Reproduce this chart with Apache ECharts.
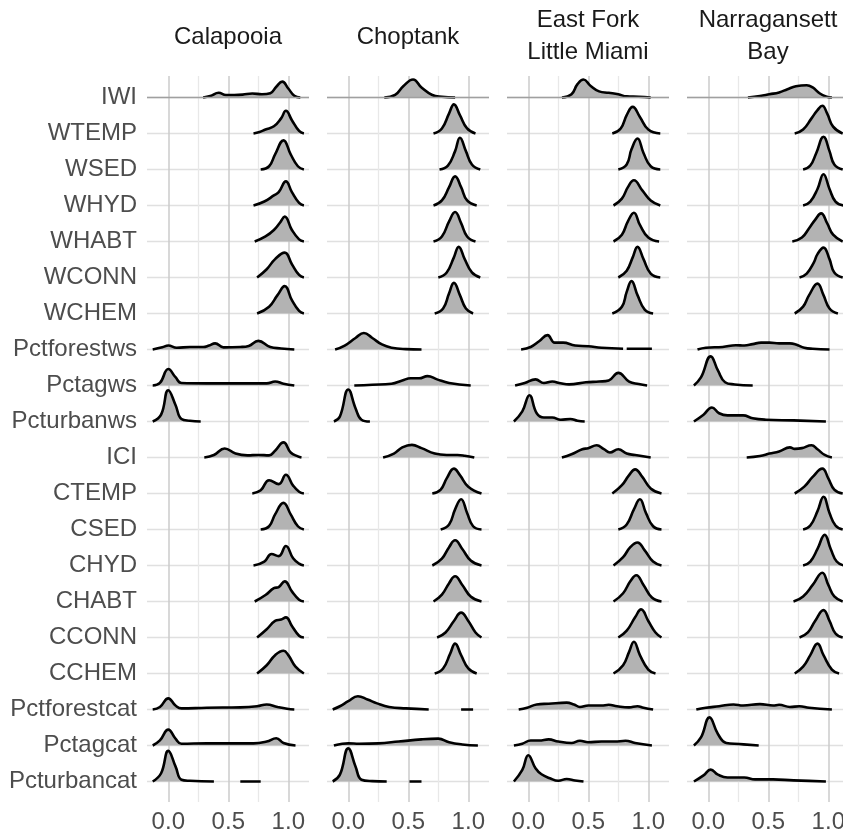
<!DOCTYPE html>
<html><head><meta charset="utf-8">
<script src="https://cdn.jsdelivr.net/npm/echarts@6/dist/echarts.min.js"></script>
<style>html,body{margin:0;padding:0;background:#fff}#c{width:843px;height:836px}</style>
</head><body><div id="c"></div>
<script>
// ---------- data ----------
const facets = ['Calapooia', 'Choptank', 'East Fork\nLittle Miami', 'Narragansett\nBay'];
const rows = ['IWI','WTEMP','WSED','WHYD','WHABT','WCONN','WCHEM','Pctforestws','Pctagws','Pcturbanws',
              'ICI','CTEMP','CSED','CHYD','CHABT','CCONN','CCHEM','Pctforestcat','Pctagcat','Pcturbancat'];
const xTicks = [0, 0.5, 1];
const xMinorTicks = [0.25, 0.75];

// density outlines: flat lists of x, height (in row units); null = gap
const calapooia = [
 [0.29,0, 0.35,0.04, 0.42,0.13, 0.48,0.07, 0.55,0.07, 0.62,0.08, 0.70,0.11, 0.78,0.09, 0.85,0.12, 0.90,0.30, 0.95,0.44, 1.00,0.25, 1.05,0.05, 1.10,0],
 [0.71,0, 0.76,0.04, 0.81,0.11, 0.88,0.20, 0.94,0.42, 0.98,0.63, 1.03,0.37, 1.09,0.07, 1.13,0],
 [0.77,0, 0.84,0.09, 0.89,0.42, 0.96,0.81, 1.02,0.42, 1.08,0.09, 1.13,0],
 [0.71,0, 0.80,0.11, 0.88,0.28, 0.92,0.37, 0.98,0.67, 1.03,0.37, 1.09,0.07, 1.13,0],
 [0.72,0, 0.81,0.14, 0.88,0.32, 0.93,0.52, 0.97,0.69, 1.03,0.32, 1.09,0.06, 1.13,0],
 [0.74,0, 0.82,0.23, 0.89,0.51, 0.97,0.69, 1.03,0.37, 1.09,0.07, 1.13,0],
 [0.74,0, 0.84,0.19, 0.91,0.51, 0.97,0.76, 1.03,0.37, 1.09,0.07, 1.13,0],
 [-0.13,0, -0.05,0.06, 0.0,0.11, 0.07,0.05, 0.18,0.07, 0.29,0.07, 0.34,0.11, 0.39,0.17, 0.46,0.06, 0.60,0.07, 0.67,0.10, 0.75,0.24, 0.85,0.07, 0.94,0.03, 1.05,0],
 [-0.13,0, -0.07,0.07, 0.0,0.46, 0.06,0.23, 0.11,0.07, 0.32,0.06, 0.60,0.06, 0.82,0.06, 0.89,0.11, 0.96,0.05, 1.05,0],
 [-0.13,0, -0.06,0.19, 0.0,0.87, 0.06,0.46, 0.11,0.07, 0.18,0.02, 0.27,0],
 [0.30,0, 0.38,0.07, 0.47,0.25, 0.56,0.11, 0.66,0.06, 0.75,0.07, 0.84,0.06, 0.89,0.19, 0.96,0.42, 1.02,0.14, 1.08,0.03, 1.11,0],
 [0.70,0, 0.77,0.09, 0.84,0.37, 0.92,0.26, 0.98,0.52, 1.04,0.22, 1.09,0.05, 1.13,0],
 [0.77,0, 0.84,0.09, 0.89,0.42, 0.96,0.74, 1.02,0.42, 1.08,0.09, 1.13,0],
 [0.71,0, 0.80,0.11, 0.86,0.32, 0.92,0.26, 0.98,0.54, 1.04,0.20, 1.09,0.05, 1.13,0],
 [0.72,0, 0.81,0.18, 0.88,0.37, 0.92,0.40, 0.97,0.56, 1.03,0.28, 1.09,0.05, 1.13,0],
 [0.74,0, 0.82,0.23, 0.89,0.46, 0.94,0.50, 0.98,0.56, 1.03,0.32, 1.09,0.05, 1.13,0],
 [0.74,0, 0.82,0.23, 0.89,0.51, 0.96,0.63, 1.00,0.51, 1.06,0.19, 1.13,0],
 [-0.13,0, -0.07,0.07, 0.0,0.31, 0.06,0.11, 0.11,0.03, 0.32,0.05, 0.60,0.06, 0.74,0.09, 0.82,0.14, 0.91,0.07, 0.99,0.02, 1.05,0],
 [-0.13,0, -0.07,0.14, 0.0,0.44, 0.06,0.19, 0.11,0.05, 0.32,0.06, 0.60,0.06, 0.71,0.06, 0.82,0.11, 0.90,0.20, 0.96,0.07, 1.06,0],
 [-0.13,0, -0.06,0.23, 0.0,0.85, 0.06,0.42, 0.11,0.05, 0.18,0.02, 0.38,0, null, 0.60,0, 0.77,0]
];
const choptank = [
 [0.30,0, 0.39,0.07, 0.46,0.32, 0.54,0.50, 0.61,0.28, 0.70,0.07, 0.78,0.02, 0.89,0],
 [0.71,0, 0.78,0.14, 0.84,0.56, 0.88,0.81, 0.93,0.51, 0.99,0.14, 1.06,0],
 [0.76,0, 0.83,0.11, 0.89,0.51, 0.93,0.88, 0.98,0.51, 1.03,0.14, 1.10,0],
 [0.71,0, 0.78,0.14, 0.84,0.51, 0.89,0.81, 0.94,0.51, 0.99,0.14, 1.07,0],
 [0.71,0, 0.78,0.14, 0.84,0.56, 0.89,0.82, 0.94,0.51, 0.99,0.14, 1.06,0],
 [0.75,0, 0.82,0.14, 0.88,0.56, 0.92,0.85, 0.97,0.51, 1.03,0.14, 1.10,0],
 [0.72,0, 0.79,0.14, 0.84,0.56, 0.88,0.85, 0.93,0.51, 0.98,0.14, 1.04,0],
 [-0.11,0, -0.03,0.11, 0.06,0.32, 0.13,0.46, 0.20,0.32, 0.28,0.14, 0.36,0.05, 0.48,0.01, 0.61,0],
 [0.05,0, 0.20,0.02, 0.36,0.05, 0.45,0.14, 0.52,0.20, 0.59,0.20, 0.66,0.26, 0.74,0.17, 0.84,0.07, 1.02,0],
 [-0.12,0, -0.07,0.14, 0.0,0.89, 0.06,0.37, 0.11,0.05, 0.18,0],
 [0.29,0, 0.38,0.11, 0.45,0.28, 0.53,0.35, 0.61,0.26, 0.72,0.11, 0.82,0.07, 0.91,0.07, 0.97,0.05, 1.05,0],
 [0.70,0, 0.77,0.11, 0.82,0.42, 0.88,0.69, 0.93,0.51, 1.00,0.19, 1.11,0],
 [0.77,0, 0.84,0.14, 0.89,0.56, 0.94,0.84, 0.99,0.46, 1.04,0.09, 1.11,0],
 [0.70,0, 0.78,0.19, 0.84,0.51, 0.89,0.70, 0.95,0.46, 1.02,0.14, 1.11,0],
 [0.71,0, 0.78,0.19, 0.84,0.51, 0.89,0.70, 0.95,0.46, 1.02,0.14, 1.11,0],
 [0.74,0, 0.81,0.14, 0.88,0.46, 0.94,0.69, 1.00,0.46, 1.06,0.14, 1.11,0],
 [0.72,0, 0.79,0.14, 0.85,0.56, 0.89,0.83, 0.94,0.51, 1.00,0.14, 1.07,0],
 [-0.13,0, -0.07,0.09, 0.0,0.23, 0.08,0.37, 0.16,0.28, 0.24,0.17, 0.34,0.07, 0.48,0.03, 0.67,0, null, 0.94,0, 1.04,0],
 [-0.12,0, -0.05,0.05, 0.0,0.06, 0.09,0.05, 0.25,0.06, 0.42,0.11, 0.61,0.17, 0.75,0.19, 0.84,0.09, 0.95,0.03, 1.08,0],
 [-0.13,0, -0.07,0.19, 0.0,0.92, 0.06,0.42, 0.11,0.05, 0.20,0.01, 0.32,0, null, 0.51,0, 0.61,0]
];
const eastFork = [
 [0.28,0, 0.36,0.09, 0.41,0.37, 0.46,0.50, 0.52,0.32, 0.59,0.17, 0.67,0.13, 0.75,0.09, 0.82,0.03, 0.92,0.02, 1.02,0],
 [0.70,0, 0.77,0.14, 0.82,0.51, 0.87,0.74, 0.93,0.46, 1.00,0.11, 1.10,0],
 [0.75,0, 0.82,0.14, 0.86,0.56, 0.91,0.86, 0.96,0.46, 1.02,0.09, 1.10,0],
 [0.71,0, 0.78,0.19, 0.83,0.51, 0.88,0.70, 0.95,0.42, 1.02,0.14, 1.10,0],
 [0.71,0, 0.78,0.19, 0.83,0.56, 0.88,0.80, 0.93,0.46, 1.00,0.11, 1.09,0],
 [0.75,0, 0.82,0.19, 0.87,0.56, 0.91,0.85, 0.96,0.51, 1.02,0.11, 1.10,0],
 [0.70,0, 0.78,0.19, 0.82,0.60, 0.86,0.90, 0.91,0.51, 0.97,0.11, 1.04,0],
 [-0.06,0, 0.02,0.07, 0.09,0.23, 0.16,0.40, 0.22,0.19, 0.29,0.19, 0.39,0.11, 0.50,0.09, 0.61,0.05, 0.79,0.02, null, 0.82,0.02, 1.03,0.02],
 [-0.11,0, -0.03,0.07, 0.06,0.17, 0.13,0.07, 0.20,0.11, 0.27,0.06, 0.34,0.03, 0.48,0.09, 0.59,0.11, 0.67,0.14, 0.75,0.35, 0.84,0.11, 0.92,0.04, 0.99,0],
 [-0.12,0, -0.05,0.28, 0.01,0.73, 0.07,0.23, 0.13,0.11, 0.20,0.11, 0.27,0.05, 0.35,0.07, 0.41,0.02, 0.47,0],
 [0.28,0, 0.36,0.09, 0.45,0.23, 0.50,0.26, 0.57,0.34, 0.63,0.23, 0.68,0.14, 0.75,0.23, 0.82,0.11, 0.89,0.07, 1.02,0],
 [0.70,0, 0.78,0.23, 0.84,0.51, 0.89,0.67, 0.95,0.46, 1.02,0.14, 1.11,0],
 [0.75,0, 0.82,0.14, 0.88,0.56, 0.93,0.84, 0.98,0.46, 1.04,0.09, 1.11,0],
 [0.71,0, 0.79,0.23, 0.85,0.51, 0.91,0.64, 0.97,0.42, 1.04,0.11, 1.11,0],
 [0.71,0, 0.79,0.23, 0.85,0.56, 0.90,0.73, 0.96,0.46, 1.03,0.11, 1.11,0],
 [0.75,0, 0.82,0.19, 0.89,0.56, 0.94,0.78, 1.00,0.46, 1.06,0.14, 1.11,0],
 [0.71,0, 0.79,0.23, 0.84,0.60, 0.88,0.88, 0.93,0.51, 1.00,0.11, 1.06,0],
 [-0.08,0, -0.01,0.05, 0.07,0.14, 0.17,0.16, 0.32,0.19, 0.38,0.14, 0.43,0.07, 0.50,0.11, 0.61,0.11, 0.67,0.13, 0.74,0.09, 0.84,0.06, 0.91,0.09, 0.96,0.05, 1.04,0],
 [-0.12,0, -0.05,0.05, 0.02,0.14, 0.09,0.14, 0.17,0.17, 0.25,0.11, 0.36,0.07, 0.43,0.13, 0.50,0.09, 0.61,0.11, 0.72,0.11, 0.81,0.13, 0.89,0.07, 1.03,0],
 [-0.12,0, -0.05,0.32, 0.0,0.73, 0.06,0.37, 0.11,0.20, 0.18,0.09, 0.25,0.02, 0.32,0.07, 0.39,0.03, 0.46,0]
];
const narragansett = [
 [0.33,0, 0.43,0.04, 0.51,0.09, 0.59,0.14, 0.66,0.23, 0.73,0.31, 0.82,0.34, 0.87,0.28, 0.93,0.11, 0.98,0.03, 1.03,0],
 [0.72,0, 0.79,0.11, 0.86,0.42, 0.91,0.65, 0.95,0.77, 0.99,0.56, 1.04,0.19, 1.12,0],
 [0.79,0, 0.85,0.11, 0.90,0.46, 0.96,0.91, 1.01,0.51, 1.05,0.14, 1.12,0],
 [0.79,0, 0.85,0.11, 0.91,0.46, 0.96,0.87, 1.01,0.46, 1.06,0.11, 1.13,0],
 [0.70,0, 0.78,0.11, 0.84,0.37, 0.89,0.60, 0.94,0.78, 0.99,0.51, 1.04,0.19, 1.12,0],
 [0.76,0, 0.82,0.11, 0.88,0.42, 0.91,0.65, 0.96,0.83, 1.01,0.51, 1.05,0.14, 1.12,0],
 [0.72,0, 0.79,0.19, 0.84,0.51, 0.91,0.83, 0.96,0.51, 1.01,0.14, 1.08,0],
 [-0.09,0, -0.02,0.05, 0.12,0.07, 0.23,0.12, 0.30,0.11, 0.37,0.15, 0.44,0.19, 0.51,0.19, 0.59,0.17, 0.68,0.17, 0.73,0.14, 0.80,0.05, 0.87,0.02, 1.01,0],
 [-0.12,0, -0.06,0.23, 0.02,0.81, 0.08,0.42, 0.14,0.09, 0.22,0.03, 0.37,0],
 [-0.12,0, -0.04,0.19, 0.03,0.39, 0.09,0.23, 0.16,0.17, 0.29,0.17, 0.37,0.09, 0.48,0.05, 0.71,0.03, 0.98,0],
 [0.32,0, 0.43,0.04, 0.51,0.11, 0.59,0.17, 0.68,0.28, 0.72,0.24, 0.78,0.26, 0.86,0.34, 0.91,0.23, 0.97,0.07, 1.03,0],
 [0.72,0, 0.80,0.19, 0.87,0.46, 0.95,0.69, 1.00,0.42, 1.05,0.11, 1.12,0],
 [0.79,0, 0.85,0.11, 0.91,0.51, 0.96,0.91, 1.01,0.46, 1.06,0.11, 1.12,0],
 [0.79,0, 0.85,0.11, 0.91,0.46, 0.97,0.85, 1.02,0.46, 1.07,0.11, 1.13,0],
 [0.71,0, 0.79,0.14, 0.87,0.46, 0.95,0.80, 1.00,0.46, 1.05,0.14, 1.12,0],
 [0.76,0, 0.83,0.14, 0.89,0.46, 0.96,0.76, 1.01,0.46, 1.06,0.11, 1.12,0],
 [0.72,0, 0.79,0.19, 0.85,0.51, 0.91,0.83, 0.96,0.51, 1.03,0.11, 1.09,0],
 [-0.10,0, -0.02,0.05, 0.09,0.09, 0.21,0.14, 0.29,0.11, 0.43,0.15, 0.54,0.11, 0.59,0.13, 0.68,0.07, 0.76,0.09, 0.84,0.05, 1.03,0],
 [-0.12,0, -0.06,0.23, 0.01,0.78, 0.08,0.32, 0.15,0.07, 0.26,0.04, 0.42,0],
 [-0.12,0, -0.04,0.17, 0.02,0.33, 0.08,0.19, 0.16,0.11, 0.30,0.11, 0.39,0.06, 0.54,0.06, 0.71,0.03, 0.98,0]
];
const densities = [calapooia, choptank, eastFork, narragansett];

// ---------- layout ----------
const FONT = "'Liberation Sans', Arial, Helvetica, sans-serif";
const GRID_TOP = 76, GRID_H = 726, GRID_W = 162, GRID_LEFT0 = 147, GRID_STEP = 180;
const PX_PER_UNIT = 120;
const X_MIN = -21.3 / PX_PER_UNIT, X_MAX = X_MIN + GRID_W / PX_PER_UNIT;
const ROW_PX = 36;
const Y_MIN = -20.5 / ROW_PX, Y_MAX = 19 + 21.5 / ROW_PX;
const rowVals = rows.map((_, i) => i);

function toPoints(flat, base) {
  const out = [];
  for (let k = 0; k < flat.length;) {
    if (flat[k] === null) { out.push(['-', '-']); k++; }
    else { out.push([flat[k], base + flat[k + 1]]); k += 2; }
  }
  return out;
}

const grid = [], xAxis = [], yAxis = [], series = [], graphic = [];
facets.forEach((name, f) => {
  grid.push({ left: GRID_LEFT0 + GRID_STEP * f, top: GRID_TOP, width: GRID_W, height: GRID_H, outerBoundsMode: 'none' });
  xAxis.push({
    gridIndex: f, type: 'value', min: X_MIN, max: X_MAX, position: 'bottom',
    axisLine: { show: false }, axisTick: { show: false, customValues: xTicks },
    axisLabel: { customValues: xTicks, formatter: v => v.toFixed(1), fontSize: 24, color: '#4d4d4d', margin: 8, fontFamily: FONT },
    splitLine: { show: true, lineStyle: { color: '#cbcbcb', width: 1.5 } }
  });
  xAxis.push({
    gridIndex: f, type: 'value', min: X_MIN, max: X_MAX, position: 'bottom',
    axisLine: { show: false }, axisTick: { show: false, customValues: xMinorTicks },
    axisLabel: { show: false, customValues: xMinorTicks },
    splitLine: { show: true, lineStyle: { color: '#e8e8e8', width: 1.3 } }
  });
  yAxis.push({
    gridIndex: f, type: 'value', min: Y_MIN, max: Y_MAX,
    axisLine: { show: false }, axisTick: { show: false, customValues: rowVals },
    axisLabel: { show: f === 0, customValues: rowVals, formatter: v => rows[19 - Math.round(v)],
                 fontSize: 24, color: '#4d4d4d', margin: 10, fontFamily: FONT },
    splitLine: { show: true, lineStyle: { color: '#e0e0e0', width: 1.3 } }
  });
  graphic.push({
    type: 'text', x: GRID_LEFT0 + GRID_STEP * f + 81, y: name.indexOf('\n') >= 0 ? 36 : 37,
    style: { text: name, textAlign: 'center', textVerticalAlign: 'middle', fontSize: 24, lineHeight: 32,
             fontFamily: FONT, fill: '#1a1a1a' }
  });
  densities[f].forEach((flat, i) => {
    const base = 19 - i;
    const s = {
      type: 'line', xAxisIndex: 2 * f, yAxisIndex: f, data: toPoints(flat, base),
      smooth: 0.45, symbol: 'none', silent: true, animation: false, connectNulls: false,
      lineStyle: { color: '#000', width: 2.6 },
      areaStyle: { color: '#b3b3b3', opacity: 1, origin: base }
    };
    if (i === 0) {
      s.markLine = { silent: true, symbol: ['none', 'none'], label: { show: false }, animation: false,
                     lineStyle: { color: '#a0a0a0', width: 1.3, type: 'solid' }, data: [{ yAxis: base }] };
    }
    series.push(s);
  });
});

const chart = echarts.init(document.getElementById('c'), null, { renderer: 'canvas' });
chart.setOption({ backgroundColor: '#fff', animation: false, grid, xAxis, yAxis, series, graphic });
</script></body></html>
